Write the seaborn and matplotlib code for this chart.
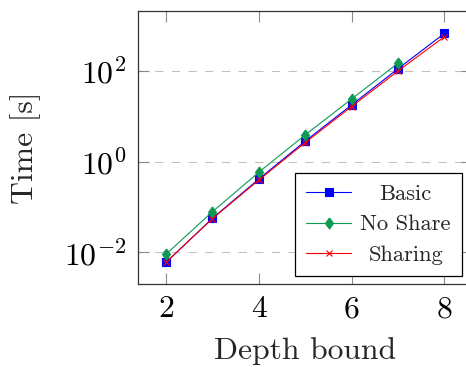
import numpy as np
import pandas as pd
import matplotlib
matplotlib.use("Agg")
import matplotlib.pyplot as plt
import seaborn as sns

# Run time per depth bound for each strategy
depth = [2, 3, 4, 5, 6, 7, 8]
basic = [0.0060, 0.056, 0.41, 2.8, 17.6, 110, 660]
no_share_depth = [2, 3, 4, 5, 6, 7]
no_share = [0.0091, 0.078, 0.58, 3.84, 23.8, 146]
sharing = [0.0060, 0.055, 0.39, 2.6, 16.2, 98, 560]

series_names = ["Basic", "No Share", "Sharing"]
y_ticks = [1e-2, 1e0, 1e2]
x_ticks = [2, 4, 6, 8]

sns.set_style("ticks")
plt.rcParams["font.family"] = ["cmr10", "DejaVu Serif"]
plt.rcParams["mathtext.fontset"] = "cm"
plt.rcParams["axes.formatter.use_mathtext"] = True
plt.rcParams["axes.unicode_minus"] = False

fig = plt.figure(figsize=(4.66, 3.67), dpi=100)
W, H = 466, 367
left, right, top, bottom = 138.3, 472.0, 11.0, 284.0
ax = fig.add_axes([left / W, 1 - bottom / H, (right - left) / W, (bottom - top) / H])

frames = {
    "Basic": pd.DataFrame({"depth": depth, "time": basic}),
    "No Share": pd.DataFrame({"depth": no_share_depth, "time": no_share}),
    "Sharing": pd.DataFrame({"depth": depth, "time": sharing}),
}
colors = {"Basic": "#0000ff", "No Share": "#0f9a52", "Sharing": "#ff0000"}
diamond = [(0, 1), (0.73, 0), (0, -1), (-0.73, 0), (0, 1)]
markers = {"Basic": "s", "No Share": diamond, "Sharing": "x"}
msizes = {"Basic": 5.2, "No Share": 8.0, "Sharing": 5.0}

for name in series_names:
    sns.lineplot(data=frames[name], x="depth", y="time", ax=ax,
                 color=colors[name], marker=markers[name],
                 markersize=msizes[name], markeredgecolor=colors[name],
                 markerfacecolor=colors[name], markeredgewidth=0.8,
                 linewidth=0.8, label=name, zorder=3)

ax.set_yscale("log")
ax.set_xlim(1.403, 8.597)
ax.set_ylim(10 ** -2.698, 10 ** 3.315)
ax.set_xticks(x_ticks)
ax.set_xticklabels([str(v) for v in x_ticks])
ax.set_yticks(y_ticks)
ax.yaxis.set_minor_locator(matplotlib.ticker.NullLocator())
ax.xaxis.set_minor_locator(matplotlib.ticker.NullLocator())

ax.grid(axis="y", which="major", color="#c0c0c0", linewidth=0.75,
        linestyle=(0, (8, 8)), zorder=0)
ax.grid(axis="x", visible=False)

for s in ax.spines.values():
    s.set_color("#333333")
    s.set_linewidth(0.9)
ax.tick_params(which="major", direction="in", length=8, width=0.8,
               color="#888888", labelsize=22.8, pad=8.5,
               top=True, right=True, labelcolor="black")

ax.set_xlabel("Depth bound", fontsize=22.8, labelpad=10)
ax.set_ylabel("Time [s]", fontsize=22.8, labelpad=16.5)

leg = ax.legend(loc="lower right", bbox_to_anchor=(0.97, 0.03),
                borderaxespad=0, fontsize=16.2, frameon=True, fancybox=False,
                framealpha=1, edgecolor="black", handlelength=2.0,
                handletextpad=0.42, borderpad=0.49, labelspacing=0.47)
leg.get_frame().set_linewidth(0.9)

# centre the legend entries within their column
fig.canvas.draw()
renderer = fig.canvas.get_renderer()
texts = leg.get_texts()
widths = [t.get_window_extent(renderer).width for t in texts]
wmax = max(widths)
for t, w in zip(texts, widths):
    t.set_x((wmax - w) / 2)

fig.savefig("out.png", dpi=100)
